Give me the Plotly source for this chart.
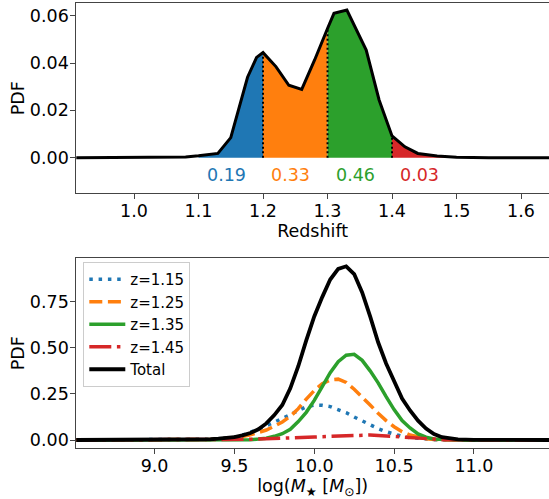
import numpy as np
import plotly.graph_objects as go

# ---------------- data: top panel (redshift PDF) ----------------
z_top = [0.90, 1.00, 1.05, 1.08, 1.10, 1.13, 1.15, 1.17, 1.176, 1.19, 1.20, 1.22, 1.24,
         1.26, 1.28, 1.30, 1.31, 1.33, 1.35, 1.36, 1.38, 1.40, 1.42, 1.44, 1.47, 1.50,
         1.55, 1.65]
pdf_top = [0.0, 0.0, 0.0001, 0.0003, 0.0008, 0.0018, 0.0085, 0.0286, 0.034, 0.0424,
           0.0444, 0.0385, 0.0306, 0.0289, 0.0413, 0.0546, 0.0610, 0.0624, 0.0511,
           0.0455, 0.0244, 0.0092, 0.0046, 0.0018, 0.0007, 0.0002, 0.0, 0.0]
bin_edges = [1.10, 1.20, 1.30, 1.40, 1.50]
bin_probs = ["0.19", "0.33", "0.46", "0.03"]
bin_colors = ["#1f77b4", "#ff7f0e", "#2ca02c", "#d62728"]

# ---------------- data: bottom panel (stellar mass PDF) ----------------
logm = [8.5, 9.0, 9.2, 9.30, 9.35, 9.40, 9.45, 9.50, 9.55, 9.60, 9.65, 9.70, 9.75, 9.80,
        9.85, 9.90, 9.95, 10.00, 10.05, 10.10, 10.15, 10.20, 10.25, 10.30, 10.35, 10.40,
        10.45, 10.50, 10.55, 10.60, 10.65, 10.70, 10.75, 10.80, 10.85, 10.90, 11.0, 11.5]
pdf_z115 = [0, 0, 0.001, 0.002, 0.004, 0.007, 0.010, 0.016, 0.026, 0.040, 0.058, 0.077,
            0.096, 0.115, 0.137, 0.160, 0.180, 0.189, 0.188, 0.181, 0.165, 0.148, 0.125,
            0.103, 0.082, 0.062, 0.045, 0.031, 0.020, 0.013, 0.008, 0.004, 0.002, 0.001,
            0, 0, 0, 0]
pdf_z125 = [0, 0, 0.001, 0.002, 0.003, 0.005, 0.009, 0.014, 0.019, 0.028, 0.040, 0.054,
            0.075, 0.098, 0.128, 0.170, 0.222, 0.268, 0.305, 0.326, 0.330, 0.312, 0.275,
            0.235, 0.190, 0.145, 0.105, 0.072, 0.045, 0.027, 0.015, 0.007, 0.003, 0.001,
            0, 0, 0, 0]
pdf_z135 = [0, 0, 0, 0, 0, 0, 0.001, 0.001, 0.001, 0.002, 0.005, 0.010, 0.020, 0.034,
            0.058, 0.100, 0.150, 0.215, 0.290, 0.365, 0.425, 0.460, 0.465, 0.432, 0.375,
            0.310, 0.235, 0.165, 0.105, 0.065, 0.033, 0.015, 0.006, 0.002, 0.001, 0, 0, 0]
pdf_z145 = [0, 0, 0, 0, 0.001, 0.001, 0.001, 0.002, 0.003, 0.004, 0.005, 0.006, 0.007,
            0.009, 0.010, 0.012, 0.014, 0.016, 0.018, 0.020, 0.023, 0.025, 0.026, 0.027,
            0.027, 0.025, 0.022, 0.018, 0.014, 0.010, 0.007, 0.005, 0.003, 0.002, 0.001,
            0.001, 0, 0]
pdf_total = [0, 0, 0.001, 0.002, 0.004, 0.007, 0.011, 0.016, 0.025, 0.038, 0.058, 0.090,
             0.135, 0.190, 0.280, 0.400, 0.540, 0.670, 0.775, 0.870, 0.928, 0.942, 0.900,
             0.800, 0.670, 0.530, 0.415, 0.315, 0.225, 0.160, 0.105, 0.062, 0.032, 0.015,
             0.007, 0.003, 0.001, 0]
series_names = ["z=1.15", "z=1.25", "z=1.35", "z=1.45", "Total"]

FONT = "DejaVu Sans"
W, H = 549, 499

fig = go.Figure()

# ---- top panel: coloured probability bins ----
zt = np.array(z_top)
pt = np.array(pdf_top)
for i in range(4):
    lo, hi = bin_edges[i], bin_edges[i + 1]
    m = (zt >= lo - 1e-9) & (zt <= hi + 1e-9)
    fig.add_trace(go.Scatter(x=zt[m], y=pt[m], mode="lines", fill="tozeroy",
                             fillcolor=bin_colors[i], line=dict(width=0, color=bin_colors[i]),
                             showlegend=False, hoverinfo="skip", xaxis="x", yaxis="y"))
# dotted separators
for e in bin_edges[1:4]:
    k = int(np.argmin(np.abs(zt - e)))
    fig.add_trace(go.Scatter(x=[zt[k], zt[k]], y=[0, pt[k]], mode="lines",
                             line=dict(color="black", width=2, dash="2px,2.5px"),
                             showlegend=False, hoverinfo="skip", xaxis="x", yaxis="y"))
fig.add_trace(go.Scatter(x=z_top, y=pdf_top, mode="lines",
                         line=dict(color="black", width=3),
                         showlegend=False, xaxis="x", yaxis="y"))

# ---- bottom panel ----
styles = [
    dict(color="#1f77b4", width=3.5, dash="3.5px,5.8px"),
    dict(color="#ff7f0e", width=3.5, dash="13px,5.6px"),
    dict(color="#2ca02c", width=3.5, dash="solid"),
    dict(color="#d62728", width=3.5, dash="22px,5.6px,3.5px,5.6px"),
    dict(color="black", width=3.8, dash="solid"),
]
for name, ys, st in zip(series_names, [pdf_z115, pdf_z125, pdf_z135, pdf_z145, pdf_total], styles):
    fig.add_trace(go.Scatter(x=logm, y=ys, mode="lines", name=name, line=st,
                             xaxis="x2", yaxis="y2"))

# ---- bin probability labels ----
annotations = []
for i in range(4):
    annotations.append(dict(x=bin_edges[i] + 0.01, y=-0.0073, xref="x", yref="y",
                            text=bin_probs[i], showarrow=False, xanchor="left",
                            yanchor="middle", font=dict(family=FONT, size=17.5, color=bin_colors[i])))

axis_common = dict(showline=True, linecolor="#444", linewidth=1, mirror=True,
                   ticks="outside", ticklen=5, tickwidth=1, tickcolor="#444",
                   showgrid=False, zeroline=False, ticklabelstandoff=-3,
                   tickfont=dict(family=FONT, size=17.5, color="black"))
ycommon = dict(axis_common)
ycommon["mirror"] = False
ycommon["ticklabelstandoff"] = -2

fig.update_layout(
    width=W, height=H,
    margin=dict(l=0, r=0, t=0, b=0),
    paper_bgcolor="white", plot_bgcolor="white",
    font=dict(family=FONT, size=17.5, color="black"),
    xaxis=dict(axis_common, domain=[76.3 / W, 1.0], range=[0.9105, 1.6434],
               tickvals=[1.0, 1.1, 1.2, 1.3, 1.4, 1.5, 1.6], tickformat=".1f",
               title=dict(text="Redshift", standoff=0, font=dict(family=FONT, size=17.5)),
               anchor="y", automargin=False),
    yaxis=dict(ycommon, domain=[1 - 193.3 / H, 1 - 3.3 / H], range=[-0.01504, 0.06524],
               tickvals=[0.0, 0.02, 0.04, 0.06], tickformat=".2f",
               title=dict(text="PDF", standoff=0, font=dict(family=FONT, size=17.5)),
               anchor="x", automargin=False),
    xaxis2=dict(axis_common, domain=[76.3 / W, 1.0], range=[8.510, 11.470],
                tickvals=[9.0, 9.5, 10.0, 10.5, 11.0], tickformat=".1f",
                title=dict(text="log(<i>M</i><sub>★</sub> [<i>M</i><sub>⊙</sub>])", standoff=2,
                           font=dict(family=FONT, size=17.5)),
                anchor="y2", automargin=False),
    yaxis2=dict(ycommon, domain=[1 - 448.3 / H, 1 - 258.3 / H], range=[-0.045, 0.9854],
                tickvals=[0.0, 0.25, 0.5, 0.75], tickformat=".2f",
                title=dict(text="PDF", standoff=0, font=dict(family=FONT, size=17.5)),
                anchor="x2", automargin=False),
    legend=dict(x=83.3 / W, y=1 - 262 / H, xanchor="left", yanchor="top",
                bgcolor="white", bordercolor="#cccccc", borderwidth=1, itemwidth=36,
                font=dict(family=FONT, size=15, color="black"), tracegroupgap=0),
    annotations=annotations,
)

fig.write_html("out.html", config={"displayModeBar": False},
               post_script="document.body.style.margin='0';document.body.style.overflow='hidden';")
